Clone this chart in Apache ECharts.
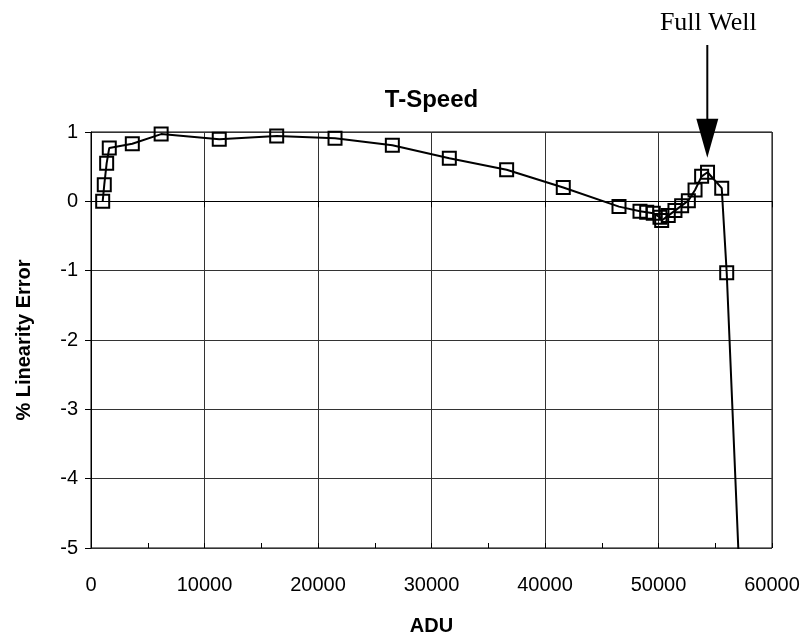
<!DOCTYPE html>
<html>
<head>
<meta charset="utf-8">
<script src="https://cdn.jsdelivr.net/npm/echarts@6/dist/echarts.min.js"></script>
<style>
  html, body { margin: 0; padding: 0; background: #fff; }
  #chart { width: 806px; height: 641px; }
</style>
</head>
<body>
<div id="chart"></div>
<script>
// Measured signal level (ADU) and linearity error (%)
const adu = [1030, 1170, 1380, 1610, 3640, 6180, 11300, 16360, 21500, 26550, 31570, 36620,
             41610, 46520, 48370, 48960, 49540, 50130, 50280, 50860, 51450, 52040, 52630,
             53220, 53800, 54320, 55570, 56010, 57800];
const linErr = [0.00, 0.24, 0.55, 0.77, 0.83, 0.97, 0.895, 0.943, 0.91, 0.81, 0.62, 0.455,
                0.20, -0.076, -0.143, -0.157, -0.172, -0.23, -0.277, -0.206, -0.134, -0.062, 0.01,
                0.163, 0.36, 0.42, 0.19, -1.03, -8.0];

const xTicks = [0, 10000, 20000, 30000, 40000, 50000, 60000];
const yTicks = [-5, -4, -3, -2, -1, 0, 1];
const fullWell = 54300;      // ADU level marked by the arrow
const fullWellLabel = 'Full Well';

const sans = "'Liberation Sans', Arial, Helvetica, sans-serif";
const chart = echarts.init(document.getElementById('chart'), null, { renderer: 'canvas' });

const points = adu.map((x, i) => [x, linErr[i]]);
const gridBox = { left: 91, right: 34, top: 132, bottom: 92 };
const plotCenterX = gridBox.left + (806 - gridBox.left - gridBox.right) / 2;

chart.setOption({
  animation: false,
  backgroundColor: '#fff',
  grid: Object.assign({
    show: true, borderColor: '#000', borderWidth: 1, backgroundColor: 'transparent'
  }, gridBox),
  xAxis: [{
    type: 'value',
    min: xTicks[0], max: xTicks[xTicks.length - 1], interval: 10000,
    name: 'ADU', nameLocation: 'middle', nameGap: 68,
    nameTextStyle: { fontFamily: sans, fontSize: 20, fontWeight: 'bold', color: '#000' },
    axisLine: { show: true, lineStyle: { color: '#000', width: 1 } },
    axisTick: { show: true, inside: false, length: 6, lineStyle: { color: '#000' } },
    axisLabel: { fontFamily: sans, fontSize: 20, color: '#000', margin: 27,
                 formatter: v => String(v) },
    splitLine: { show: true, lineStyle: { color: '#333', width: 1 } }
  }, {
    // minor tick marks every 5000 ADU, pointing into the plot
    type: 'value', position: 'bottom',
    min: xTicks[0], max: xTicks[xTicks.length - 1], interval: 5000,
    axisLine: { show: false },
    axisTick: { show: true, inside: true, length: 5, lineStyle: { color: '#000' } },
    axisLabel: { show: false },
    splitLine: { show: false }
  }],
  yAxis: {
    type: 'value',
    min: yTicks[0], max: yTicks[yTicks.length - 1], interval: 1,
    name: '% Linearity Error', nameLocation: 'middle', nameGap: 57, nameRotate: 90,
    nameTextStyle: { fontFamily: sans, fontSize: 20, fontWeight: 'bold', color: '#000' },
    axisLine: { show: true, lineStyle: { color: '#000', width: 1 } },
    axisTick: { show: true, inside: false, length: 6, lineStyle: { color: '#000' } },
    axisLabel: { fontFamily: sans, fontSize: 20, color: '#000', margin: 13 },
    splitLine: { show: true, lineStyle: { color: '#333', width: 1 } }
  },
  series: [{
    type: 'line',
    data: points,
    clip: true,
    symbol: 'rect',
    symbolSize: 13,
    showAllSymbol: true,
    lineStyle: { color: '#000', width: 2 },
    itemStyle: { color: 'rgba(0,0,0,0)', borderColor: '#000', borderWidth: 2 },
    z: 3
  }]
});

// Chart title centred over the plot area, plus the full-well label and arrow
const ax = chart.convertToPixel({ xAxisIndex: 0 }, fullWell);
const tipY = chart.convertToPixel({ yAxisIndex: 0 }, 0.63);
chart.setOption({
  graphic: [
    {
      type: 'text', x: plotCenterX, y: 100,
      style: {
        text: 'T-Speed', fill: '#000',
        font: "bold 24px " + sans,
        align: 'center', verticalAlign: 'middle'
      }
    },
    {
      type: 'text', x: ax + 1, y: 23,
      style: {
        text: fullWellLabel, fill: '#000',
        font: "26px 'Liberation Serif', 'Times New Roman', serif",
        align: 'center', verticalAlign: 'middle'
      }
    },
    {
      type: 'line',
      shape: { x1: ax, y1: 45, x2: ax, y2: tipY - 36 },
      style: { stroke: '#000', lineWidth: 2 }
    },
    {
      type: 'polygon',
      shape: { points: [[ax - 11, tipY - 39], [ax + 11, tipY - 39], [ax, tipY]] },
      style: { fill: '#000' }
    }
  ]
});
</script>
</body>
</html>
